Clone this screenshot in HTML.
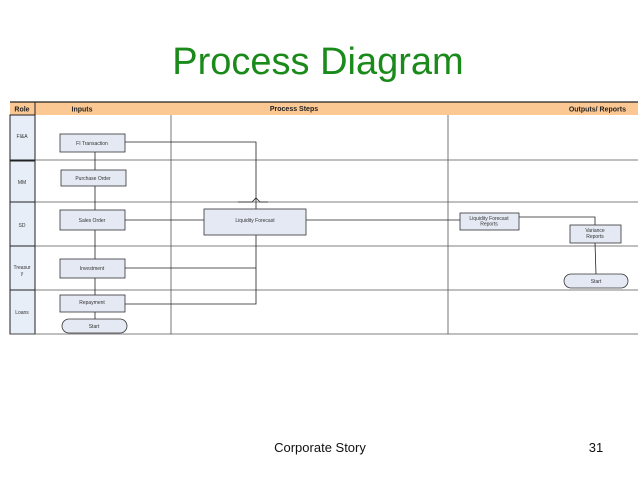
<!DOCTYPE html>
<html><head><meta charset="utf-8"><style>
html,body{margin:0;padding:0;background:#fff;}
body{width:638px;height:479px;overflow:hidden;position:relative;font-family:"Liberation Sans",sans-serif;}
</style></head><body>
<svg width="638" height="479" xmlns="http://www.w3.org/2000/svg" style="position:absolute;left:0;top:0" font-family="Liberation Sans, sans-serif">
<text x="318" y="74" text-anchor="middle" font-size="38" fill="#1a8a1a">Process Diagram</text>
<!-- header -->
<rect x="10" y="102" width="628" height="13" fill="#fbc792"/>
<line x1="10" y1="102" x2="638" y2="102" stroke="#222" stroke-width="1.2"/>
<line x1="35" y1="102" x2="35" y2="334" stroke="#222" stroke-width="1"/>
<text x="22" y="111.5" text-anchor="middle" font-size="7" font-weight="bold" fill="#222">Role</text>
<text x="82" y="111.5" text-anchor="middle" font-size="7" font-weight="bold" fill="#222">Inputs</text>
<text x="294" y="111" text-anchor="middle" font-size="7" font-weight="bold" fill="#222">Process Steps</text>
<text x="626" y="111.5" text-anchor="end" font-size="7" font-weight="bold" fill="#222">Outputs/ Reports</text>
<!-- role cells -->
<g fill="#e8eef7" stroke="#222" stroke-width="1">
<rect x="10" y="115" width="25" height="45"/>
<rect x="10" y="161" width="25" height="41"/>
<rect x="10" y="202" width="25" height="44"/>
<rect x="10" y="246" width="25" height="44"/>
<rect x="10" y="290" width="25" height="44"/>
</g>
<g font-size="5" fill="#333" text-anchor="middle">
<text x="22" y="138">FI&amp;A</text>
<text x="22" y="184">MM</text>
<text x="22" y="227">SD</text>
<text x="22" y="269">Treasur</text><text x="22" y="275">y</text>
<text x="22" y="314">Loans</text>
</g>
<!-- grid -->
<g stroke="#555" stroke-width="0.8">
<line x1="35" y1="160" x2="638" y2="160"/>
<line x1="35" y1="202" x2="638" y2="202"/>
<line x1="35" y1="246" x2="638" y2="246"/>
<line x1="35" y1="290" x2="638" y2="290"/>
<line x1="10" y1="334" x2="638" y2="334"/>
<line x1="171" y1="115" x2="171" y2="334"/>
<line x1="448" y1="115" x2="448" y2="334"/>
</g>
<!-- connectors -->
<g stroke="#222" stroke-width="0.8" fill="none">
<line x1="95" y1="152" x2="95" y2="170"/>
<line x1="95" y1="186" x2="95" y2="210"/>
<line x1="95" y1="230" x2="95" y2="259"/>
<line x1="95" y1="278" x2="95" y2="295"/>
<line x1="95" y1="312" x2="95" y2="319"/>
<polyline points="125,142 256,142 256,209"/>
<path d="M238,202 H252 L256,198 L260,202 H268"/>
<line x1="125" y1="220" x2="204" y2="220"/>
<line x1="306" y1="220" x2="460" y2="220"/>
<polyline points="256,235 256,304 125,304"/>
<line x1="125" y1="268" x2="256" y2="268"/>
<polyline points="519,217 595,217 595,225"/>
<line x1="595" y1="243" x2="596" y2="274"/>
</g>
<!-- boxes -->
<g fill="#e4e9f3" stroke="#333" stroke-width="0.8">
<rect x="60" y="134" width="65" height="18"/>
<rect x="61" y="170" width="65" height="16"/>
<rect x="60" y="210" width="65" height="20"/>
<rect x="60" y="259" width="65" height="19"/>
<rect x="60" y="295" width="65" height="17"/>
<rect x="62" y="319" width="65" height="14" rx="7"/>
<rect x="204" y="209" width="102" height="26"/>
<rect x="460" y="213" width="59" height="17"/>
<rect x="570" y="225" width="51" height="18"/>
<rect x="564" y="274" width="64" height="14" rx="7"/>
</g>
<g font-size="5" fill="#333" text-anchor="middle">
<text x="92" y="145">FI Transaction</text>
<text x="93" y="180">Purchase Order</text>
<text x="92" y="222">Sales Order</text>
<text x="92" y="270">Investment</text>
<text x="92" y="304">Repayment</text>
<text x="94" y="328">Start</text>
<text x="255" y="222">Liquidity Forecast</text>
<text x="489" y="220">Liquidity Forecast</text><text x="489" y="225.5">Reports</text>
<text x="595" y="232">Variance</text><text x="595" y="238">Reports</text>
<text x="596" y="283">Start</text>
</g>
<text x="320" y="452" text-anchor="middle" font-size="13" fill="#111">Corporate Story</text>
<text x="596" y="452" text-anchor="middle" font-size="13" fill="#111">31</text>
</svg>
</body></html>
